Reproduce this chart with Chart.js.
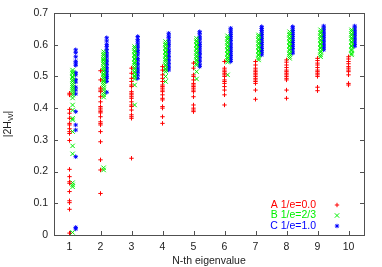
<!DOCTYPE html>
<html>
<head>
<meta charset="utf-8">
<script src="https://cdn.jsdelivr.net/npm/chart.js"></script>
<style>
  html, body { margin: 0; padding: 0; background: #fff; }
  canvas { display: block; }
</style>
</head>
<body>
<canvas id="grafico" width="382" height="267"></canvas>
<script>
const eigenIdx = [1, 2, 3, 4, 5, 6, 7, 8, 9, 10];
const xTickLabels = ["1", "2", "3", "4", "5", "6", "7", "8", "9", "10"];
const yTicks = [0, 0.1, 0.2, 0.3, 0.4, 0.5, 0.6, 0.7];
const yTickLabels = ["0", "0.1", "0.2", "0.3", "0.4", "0.5", "0.6", "0.7"];
const seriesNames = ["A 1/e=0.0", "B 1/e=2/3", "C 1/e=1.0"];

// one inner list per eigenvalue index
const valsA = [
    [0.447, 0.442, 0.396, 0.384, 0.368, 0.352, 0.347, 0.335, 0.326, 0.32, 0.298, 0.207, 0.184, 0.168, 0.163, 0.137, 0.108, 0.102, 0.081, 0.006],
    [0.518, 0.489, 0.463, 0.457, 0.452, 0.436, 0.42, 0.405, 0.4, 0.394, 0.389, 0.385, 0.373, 0.357, 0.352, 0.347, 0.326, 0.294, 0.237, 0.205, 0.131],
    [0.526, 0.51, 0.494, 0.484, 0.473, 0.468, 0.452, 0.447, 0.442, 0.436, 0.431, 0.42, 0.41, 0.405, 0.394, 0.379, 0.373, 0.368, 0.242],
    [0.531, 0.52, 0.505, 0.494, 0.484, 0.473, 0.468, 0.463, 0.457, 0.452, 0.442, 0.431, 0.426, 0.405, 0.4, 0.373, 0.352],
    [0.542, 0.526, 0.505, 0.5, 0.489, 0.478, 0.473, 0.468, 0.463, 0.457, 0.452, 0.436, 0.41, 0.4, 0.394, 0.389],
    [0.547, 0.526, 0.52, 0.515, 0.51, 0.505, 0.5, 0.489, 0.484, 0.478, 0.468, 0.457, 0.442, 0.41],
    [0.547, 0.536, 0.526, 0.52, 0.515, 0.51, 0.505, 0.5, 0.494, 0.489, 0.484, 0.478, 0.457, 0.428],
    [0.552, 0.545, 0.536, 0.528, 0.52, 0.515, 0.51, 0.505, 0.5, 0.494, 0.489, 0.457, 0.431],
    [0.557, 0.55, 0.542, 0.536, 0.528, 0.52, 0.515, 0.51, 0.505, 0.5, 0.466, 0.455],
    [0.562, 0.555, 0.547, 0.54, 0.531, 0.526, 0.52, 0.515, 0.505, 0.478, 0.473]
];
const valsB = [
    [0.52, 0.514, 0.509, 0.5, 0.496, 0.489, 0.484, 0.477, 0.471, 0.466, 0.46, 0.454, 0.447, 0.441, 0.432, 0.41, 0.394, 0.368, 0.363, 0.326, 0.281, 0.256, 0.165, 0.158, 0.152, 0.008],
    [0.578, 0.571, 0.566, 0.559, 0.554, 0.55, 0.544, 0.539, 0.531, 0.526, 0.52, 0.516, 0.509, 0.505, 0.499, 0.494, 0.488, 0.484, 0.478, 0.472, 0.464, 0.457, 0.449, 0.442, 0.435, 0.212, 0.205],
    [0.594, 0.589, 0.581, 0.577, 0.569, 0.565, 0.557, 0.553, 0.545, 0.541, 0.535, 0.527, 0.523, 0.515, 0.511, 0.503, 0.499, 0.492, 0.473, 0.41],
    [0.61, 0.603, 0.599, 0.591, 0.587, 0.579, 0.575, 0.567, 0.563, 0.555, 0.551, 0.545, 0.537, 0.533, 0.525, 0.521, 0.515, 0.5, 0.484],
    [0.62, 0.613, 0.609, 0.601, 0.597, 0.589, 0.585, 0.577, 0.573, 0.565, 0.561, 0.553, 0.549, 0.541, 0.536, 0.515, 0.492],
    [0.628, 0.621, 0.617, 0.609, 0.605, 0.597, 0.593, 0.585, 0.581, 0.573, 0.569, 0.561, 0.557, 0.551, 0.545, 0.505],
    [0.631, 0.626, 0.618, 0.614, 0.606, 0.602, 0.594, 0.59, 0.582, 0.578, 0.57, 0.566, 0.558, 0.552],
    [0.641, 0.634, 0.63, 0.622, 0.618, 0.61, 0.606, 0.598, 0.594, 0.586, 0.582, 0.574, 0.57, 0.563, 0.557],
    [0.647, 0.64, 0.636, 0.628, 0.624, 0.616, 0.612, 0.604, 0.6, 0.592, 0.588, 0.58, 0.576, 0.568, 0.562],
    [0.647, 0.642, 0.634, 0.63, 0.622, 0.618, 0.61, 0.606, 0.598, 0.594, 0.586, 0.581, 0.573, 0.568]
];
const valsC = [
    [0.584, 0.575, 0.562, 0.548, 0.542, 0.535, 0.512, 0.505, 0.49, 0.482, 0.466, 0.457, 0.445, 0.389, 0.347, 0.331, 0.247, 0.024, 0.019],
    [0.622, 0.612, 0.601, 0.594, 0.585, 0.576, 0.568, 0.561, 0.552, 0.546, 0.538, 0.529, 0.523, 0.515, 0.507, 0.5, 0.493, 0.484, 0.45],
    [0.626, 0.617, 0.611, 0.603, 0.596, 0.59, 0.582, 0.576, 0.568, 0.557, 0.551, 0.542, 0.536, 0.527, 0.52, 0.513, 0.504, 0.494],
    [0.636, 0.628, 0.622, 0.614, 0.606, 0.6, 0.593, 0.584, 0.578, 0.571, 0.563, 0.555, 0.549, 0.541, 0.533, 0.527, 0.52],
    [0.641, 0.636, 0.627, 0.621, 0.615, 0.606, 0.601, 0.594, 0.587, 0.58, 0.573, 0.568, 0.56, 0.552, 0.546, 0.537, 0.531],
    [0.652, 0.646, 0.639, 0.632, 0.626, 0.619, 0.613, 0.605, 0.599, 0.592, 0.586, 0.579, 0.573, 0.566, 0.559, 0.553, 0.547],
    [0.657, 0.651, 0.645, 0.638, 0.632, 0.627, 0.62, 0.614, 0.607, 0.601, 0.595, 0.588, 0.582, 0.575, 0.568],
    [0.657, 0.65, 0.645, 0.639, 0.632, 0.626, 0.62, 0.613, 0.607, 0.601, 0.594, 0.588, 0.58, 0.573],
    [0.659, 0.653, 0.647, 0.64, 0.634, 0.628, 0.622, 0.615, 0.609, 0.602, 0.596, 0.59, 0.584],
    [0.659, 0.653, 0.646, 0.64, 0.634, 0.628, 0.621, 0.615, 0.608, 0.601, 0.595]
];

const FONT = "'Liberation Sans', Arial, sans-serif";
const colores = ["#ff0000", "#00f000", "#0000ff"];
const estilos = ["cross", "crossRot", "star"];
const radios = [2.2, 3.1, 2.2];
const desplaz = [0, 0.1, 0.2];

function puntos(vals, off) {
    const out = [];
    eigenIdx.forEach((n, i) => {
        vals[i].forEach(v => out.push({ x: n + off, y: v }));
    });
    return out;
}

const datasets = [valsA, valsB, valsC].map((vals, s) => ({
    label: seriesNames[s],
    data: puntos(vals, desplaz[s]),
    pointStyle: estilos[s],
    pointRadius: radios[s],
    pointBorderWidth: 1,
    borderColor: colores[s],
    backgroundColor: colores[s],
    showLine: false
}));

// marco, ticks hacia dentro, titulos y leyenda al estilo gnuplot
const decoracion = {
    id: "decoracion",
    beforeDatasetsDraw(chart) {
        const { ctx, chartArea: a, scales } = chart;
        ctx.save();
        ctx.strokeStyle = "#505050";
        ctx.lineWidth = 1;
        ctx.strokeRect(Math.round(a.left) + 0.5, Math.round(a.top) + 0.5,
            Math.round(a.right - a.left), Math.round(a.bottom - a.top));
        ctx.beginPath();
        eigenIdx.forEach(n => {
            const x = Math.round(scales.x.getPixelForValue(n)) + 0.5;
            ctx.moveTo(x, a.bottom); ctx.lineTo(x, a.bottom - 4);
            ctx.moveTo(x, a.top); ctx.lineTo(x, a.top + 4);
        });
        yTicks.forEach(v => {
            const y = Math.round(scales.y.getPixelForValue(v)) + 0.5;
            ctx.moveTo(a.left, y); ctx.lineTo(a.left + 4, y);
            ctx.moveTo(a.right, y); ctx.lineTo(a.right - 4, y);
        });
        ctx.stroke();
        ctx.restore();
    },
    afterDraw(chart) {
        const { ctx, chartArea: a } = chart;
        ctx.save();
        ctx.fillStyle = "#222";
        ctx.font = "10.5px " + FONT;
        ctx.textAlign = "center";
        ctx.textBaseline = "middle";
        ctx.fillText("N-th eigenvalue", (a.left + a.right) / 2, 261);

        // |2H_W| rotado
        ctx.translate(8, (a.top + a.bottom) / 2);
        ctx.rotate(-Math.PI / 2);
        ctx.textAlign = "left";
        const p1 = "|2H", p2 = "W", p3 = "|";
        const w1 = ctx.measureText(p1).width;
        const w3 = ctx.measureText(p3).width;
        ctx.font = "8px " + FONT;
        const w2 = ctx.measureText(p2).width;
        let x0 = -(w1 + w2 + w3) / 2;
        ctx.font = "10.5px " + FONT;
        ctx.fillText(p1, x0, 0);
        ctx.font = "8px " + FONT;
        ctx.fillText(p2, x0 + w1, 3);
        ctx.font = "10.5px " + FONT;
        ctx.fillText(p3, x0 + w1 + w2, 0);
        ctx.restore();

        // leyenda
        ctx.save();
        ctx.font = "10.5px " + FONT;
        ctx.textAlign = "right";
        ctx.textBaseline = "middle";
        const filas = [205, 215.5, 226];
        seriesNames.forEach((nombre, s) => {
            ctx.fillStyle = colores[s];
            ctx.fillText(nombre, 316, filas[s]);
            ctx.strokeStyle = colores[s];
            ctx.lineWidth = 1;
            Chart.helpers.drawPoint(ctx, {
                pointStyle: estilos[s], radius: radios[s], borderWidth: 1, rotation: 0
            }, 337, filas[s]);
        });
        ctx.restore();
    }
};

new Chart(document.getElementById("grafico"), {
    type: "scatter",
    data: { datasets },
    options: {
        responsive: false,
        animation: false,
        layout: { padding: { left: 0, right: 18, top: 13, bottom: 0 } },
        plugins: { legend: { display: false }, tooltip: { enabled: false } },
        scales: {
            x: {
                type: "linear", min: 0.5, max: 10.5,
                grid: { display: false, drawTicks: false },
                border: { display: false },
                afterBuildTicks: sc => { sc.ticks = eigenIdx.map(v => ({ value: v })); },
                afterFit: sc => { sc.height = 32; },
                ticks: {
                    padding: 6, color: "#222", maxRotation: 0, autoSkip: false,
                    font: { family: FONT, size: 10.5 },
                    callback: (v, i) => xTickLabels[i]
                }
            },
            y: {
                type: "linear", min: 0, max: 0.7,
                grid: { display: false, drawTicks: false },
                border: { display: false },
                afterBuildTicks: sc => { sc.ticks = yTicks.map(v => ({ value: v })); },
                afterFit: sc => { sc.width = 54; },
                ticks: {
                    padding: 6, color: "#222",
                    font: { family: FONT, size: 10.5 },
                    callback: (v, i) => yTickLabels[i]
                }
            }
        }
    },
    plugins: [decoracion]
});
</script>
</body>
</html>
